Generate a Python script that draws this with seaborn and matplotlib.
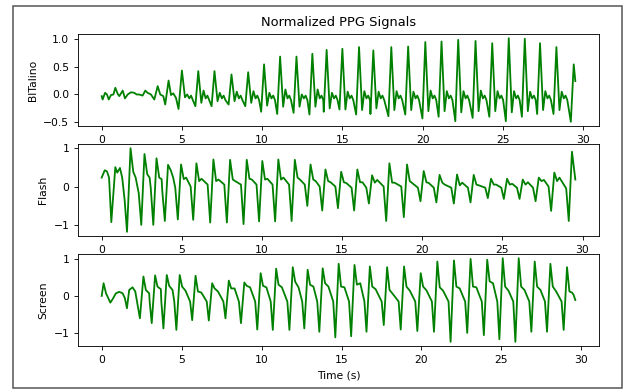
import matplotlib
matplotlib.use("Agg")
import matplotlib.pyplot as plt
from matplotlib.patches import Rectangle
import pandas as pd
import seaborn as sns

# ---------------- BITalino (panel 1) ----------------
bit_early_t = [0.0, 0.06, 0.21, 0.33, 0.44, 0.58, 0.73, 0.85, 1.0, 1.1, 1.31, 1.45, 1.62, 1.83,
               2.03, 2.18, 2.34, 2.55, 2.72, 2.86, 3.07, 3.28, 3.49, 3.65, 3.84, 3.96, 4.17,
               4.32, 4.46, 4.63, 4.79]
bit_early_v = [-0.03, -0.09, 0.03, 0.0, -0.09, -0.01, 0.0, 0.12, 0.01, -0.03, 0.07, -0.07, 0.0, 0.04,
               0.03, 0.0, 0.0, -0.02, 0.07, 0.03, 0.0, -0.09, 0.15, 0.0, -0.03, -0.18, 0.25,
               -0.01, 0.02, -0.06, -0.26]
bit_peak_t = [5.0, 6.02, 7.03, 8.09, 9.13, 10.12, 11.12, 12.14, 13.13, 14.02, 15.0, 16.04, 16.93,
              18.05, 19.1, 20.17, 21.18, 22.22, 23.3, 24.34, 25.37, 26.37, 27.32, 28.34, 29.42]
bit_peak_v = [0.43, 0.42, 0.42, 0.36, 0.40, 0.54, 0.68, 0.68, 0.73, 0.80, 0.82, 0.85, 0.79,
              0.85, 0.86, 0.94, 0.95, 0.98, 0.96, 0.92, 1.01, 1.0, 0.92, 0.85, 0.54]
bit_dip_v = [-0.05, -0.15, -0.12, -0.12, -0.15, -0.2, -0.22, -0.22, -0.22, -0.25, -0.27, -0.28,
             -0.25, -0.28, -0.28, -0.3, -0.3, -0.32, -0.3, -0.3, -0.32, -0.3, -0.28, -0.28]
bit_sec_v = [0.0, 0.07, 0.03, 0.05, 0.06, 0.03, 0.09, 0.0, 0.09, 0.03, 0.05, 0.06, 0.05, 0.06,
             0.05, 0.07, 0.06, 0.06, 0.07, 0.06, 0.06, 0.05, 0.06, 0.05]
bit_trough_v = [-0.21, -0.21, -0.18, -0.21, -0.31, -0.35, -0.33, -0.36, -0.31, -0.27, -0.36, -0.35,
                -0.39, -0.36, -0.43, -0.4, -0.48, -0.42, -0.4, -0.48, -0.4, -0.35, -0.35, -0.49]
bit_end_t = [29.52]
bit_end_v = [0.24]

# ---------------- Flash (panel 2) ----------------
fl_early_t = [0.0, 0.19, 0.33, 0.46, 0.6, 0.85, 0.97, 1.14, 1.28, 1.43, 1.58]
fl_early_v = [0.23, 0.42, 0.39, 0.23, -0.92, 0.5, 0.36, 0.48, 0.23, -0.34, -1.17]
fl_peak_t = [1.8, 2.67, 3.42, 4.14, 4.95, 5.91, 6.97, 8.01, 9.05, 10.02, 11.02, 12.05, 13.03, 13.96,
             14.94, 15.95, 16.87, 17.95, 19.05, 20.09, 21.08, 22.17, 23.21, 24.29, 25.29, 26.27,
             27.27, 28.24, 29.34]
fl_peak_v = [0.99, 0.84, 0.73, 0.56, 0.57, 0.6, 0.7, 0.69, 0.69, 0.66, 0.7, 0.69, 0.57, 0.44,
             0.38, 0.44, 0.29, 0.6, 0.57, 0.4, 0.3, 0.31, 0.3, 0.2, 0.2, 0.18, 0.23, 0.36, 0.9]
fl_plateau_v = [0.38, 0.32, 0.23, 0.42, 0.19, 0.14, 0.14, 0.18, 0.2, 0.18, 0.18, 0.23, 0.18, 0.14,
                0.11, 0.11, 0.1, 0.1, 0.14, 0.11, 0.1, 0.03, 0.05, 0.05, 0.05, 0.05, 0.14, 0.14]
fl_bump_v = [0.23, 0.23, 0.19, 0.23, 0.23, 0.2, 0.18, 0.14, 0.18, 0.2, 0.23, 0.18, 0.14, 0.11,
             0.09, 0.11, 0.17, 0.1, 0.09, 0.09, 0.05, 0.1, 0.03, 0.05, 0.07, 0.11, 0.17, 0.23]
fl_decline_v = [-0.17, -0.03, -0.11, -0.03, 0.0, 0.05, 0.05, 0.05, 0.05, 0.05, 0.05, 0.05, 0.0, 0.0,
                -0.03, -0.03, 0.0, 0.0, -0.03, -0.03, -0.03, -0.03, -0.03, -0.03, -0.03, -0.03, 0.0, -0.05]
fl_trough_v = [-0.99, -0.99, -0.89, -0.85, -0.86, -0.93, -0.93, -0.97, -0.9, -0.9, -0.89, -0.5,
               -0.62, -0.56, -0.62, -0.44, -0.89, -0.79, -0.38, -0.41, -0.44, -0.41, -0.3, -0.32,
               -0.32, -0.38, -0.63, -0.89]
fl_end_t = [29.55]
fl_end_v = [0.18]

# ---------------- Screen (panel 3) ----------------
sc_early_t = [0.0, 0.12, 0.27, 0.37, 0.54, 0.68, 0.89, 1.1, 1.31, 1.45, 1.58, 1.72, 1.93, 2.1, 2.39]
sc_early_v = [0.0, 0.34, 0.07, -0.02, -0.18, -0.09, 0.07, 0.11, 0.07, -0.06, -0.33, 0.16, 0.23, 0.12, -0.6]
sc_peak_t = [2.61, 3.34, 4.07, 4.88, 5.87, 6.91, 7.95, 8.92, 9.94, 10.91, 11.95, 12.88, 13.82, 14.82,
             15.81, 16.77, 17.85, 18.91, 19.95, 20.99, 22.03, 23.07, 24.11, 25.08, 26.08, 27.08,
             28.06, 29.1]
sc_peak_v = [0.52, 0.55, 0.56, 0.56, 0.54, 0.34, 0.41, 0.36, 0.61, 0.73, 0.77, 0.7, 0.74, 0.86,
             0.83, 0.79, 0.77, 0.79, 0.61, 0.92, 0.95, 0.99, 0.97, 1.01, 1.01, 0.92, 0.86, 0.77]
sc_sh1_v = [0.16, 0.25, 0.27, 0.25, 0.12, 0.2, 0.2, 0.27, 0.27, 0.3, 0.38, 0.3, 0.34, 0.25, 0.3,
            0.25, 0.16, 0.25, 0.25, 0.23, 0.25, 0.25, 0.39, 0.25, 0.25, 0.25, 0.25]
sc_sh2_v = [0.07, 0.18, 0.16, 0.14, 0.09, 0.12, 0.2, 0.23, 0.23, 0.23, 0.23, 0.25, 0.25, 0.23, 0.34,
            0.18, 0.05, 0.14, 0.15, 0.14, 0.2, 0.23, 0.34, 0.14, 0.16, 0.16, 0.12]
sc_trough_v = [-0.73, -0.87, -0.91, -0.65, -0.66, -0.6, -0.73, -0.9, -0.91, -0.91, -0.87, -0.96,
               -1.11, -1.08, -0.96, -0.78, -0.9, -0.94, -0.96, -1.23, -0.99, -1.05, -1.16, -1.23,
               -0.96, -0.96, -0.91]
sc_end_t = [29.25, 29.41, 29.51, 29.62]
sc_end_v = [0.12, 0.09, 0.03, -0.11]

panel_names = ["BITalino", "Flash", "Screen"]
x_label = "Time (s)"
title = "Normalized PPG Signals"


def assemble(early_t, early_v, peak_t, peak_v, feats, trough_off, trough_v, end_t, end_v):
    """feats: list of (anchor, offset, values); 'p' = after a peak, 'n' = before the next peak."""
    t = list(early_t)
    v = list(early_v)
    n = len(peak_t)
    for i in range(n):
        t.append(peak_t[i]); v.append(peak_v[i])
        if i == n - 1:
            break
        for anchor, off, vals in feats:
            tt = peak_t[i] + off if anchor == "p" else peak_t[i + 1] - off
            if tt > t[-1] + 0.02 and tt < peak_t[i + 1] - trough_off - 0.02:
                t.append(tt); v.append(vals[i])
        t.append(peak_t[i + 1] - trough_off); v.append(trough_v[i])
    t += list(end_t); v += list(end_v)
    return pd.DataFrame({"t": t, "v": v})


n1 = len(bit_dip_v)
df_bit = assemble(bit_early_t, bit_early_v, bit_peak_t, bit_peak_v,
                  [("p", 0.19, bit_dip_v), ("p", 0.33, bit_sec_v),
                   ("p", 0.46, [-0.07] * n1), ("p", 0.57, [-0.02] * n1), ("p", 0.68, [-0.1] * n1)],
                  0.18, bit_trough_v, bit_end_t, bit_end_v)
df_fl = assemble(fl_early_t, fl_early_v, fl_peak_t, fl_peak_v,
                 [("p", 0.17, fl_plateau_v), ("p", 0.32, fl_bump_v), ("n", 0.36, fl_decline_v)],
                 0.2, fl_trough_v, fl_end_t, fl_end_v)
n3 = len(sc_sh1_v)
df_sc = assemble(sc_early_t, sc_early_v, sc_peak_t, sc_peak_v,
                 [("p", 0.15, sc_sh1_v), ("p", 0.36, sc_sh2_v), ("n", 0.34, [-0.15] * n3)],
                 0.21, sc_trough_v, sc_end_t, sc_end_v)

s = 0.779
plt.rcParams.update({
    "font.family": ["DejaVu Sans"],
    "font.size": 10 * s,
    "axes.linewidth": 0.8 * s,
    "xtick.major.size": 3.5 * s,
    "ytick.major.size": 3.5 * s,
    "xtick.major.width": 0.8 * s,
    "ytick.major.width": 0.8 * s,
    "xtick.labelsize": 10 * s,
    "ytick.labelsize": 10 * s,
})

fig, axes = plt.subplots(3, 1, figsize=(6.23, 3.89), dpi=100)
fig.subplots_adjust(left=0.1252, right=0.9615, top=0.9126, bottom=0.1105, hspace=0.196)

for ax, df, name in zip(axes, [df_bit, df_fl, df_sc], panel_names):
    sns.lineplot(data=df, x="t", y="v", ax=ax, color="green", linewidth=1.3,
                 estimator=None, sort=False)
    for ln in ax.get_lines():
        ln.set_solid_joinstyle("round")
    ax.set_ylabel(name, fontsize=10 * s)
    ax.set_xlabel("")
    ax.set_xticks([0, 5, 10, 15, 20, 25, 30])

axes[0].set_yticks([-0.5, 0.0, 0.5, 1.0])
axes[1].set_yticks([-1, 0, 1])
axes[2].set_yticks([-1, 0, 1])
axes[0].set_title(title, fontsize=12 * s)
axes[2].set_xlabel(x_label, fontsize=10 * s)

# thin grey frame around the figure area, as in the reference
W, H = 623.0, 389.0
fig.add_artist(Rectangle((12.5 / W, 1 - 387.5 / H), (621.5 - 12.5) / W, (387.5 - 5.5) / H,
                         transform=fig.transFigure, fill=False, edgecolor="#555555",
                         linewidth=1.1))

fig.savefig("out.png", dpi=100)
